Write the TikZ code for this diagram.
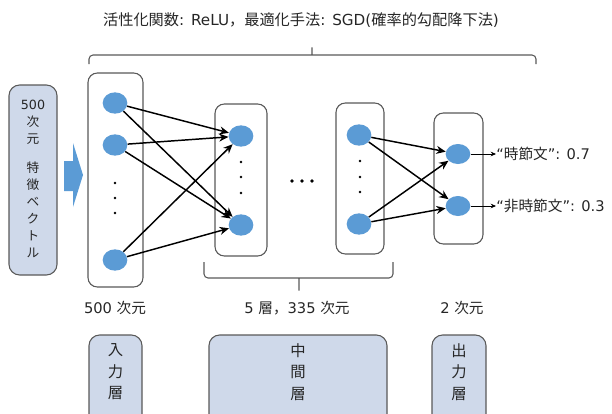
\documentclass[tikz,border=0pt]{standalone}
\usepackage{fontspec}
\setmainfont{DejaVu Sans}
\newfontfamily\jp{Noto Sans CJK JP}
\usetikzlibrary{arrows.meta,shapes.geometric}
\definecolor{nodeblue}{HTML}{5B9BD5}
\definecolor{boxfill}{HTML}{CFD9EA}
\definecolor{boxline}{HTML}{595959}
\definecolor{txt}{HTML}{262626}
\begin{document}
\begin{tikzpicture}[x=0.75pt,y=-0.75pt,
  neuron/.style={ellipse,fill=nodeblue,minimum width=18.5pt,minimum height=16pt,inner sep=0pt},
  layerbox/.style={draw=boxline,line width=0.8pt,rounded corners=7pt,fill=white,inner sep=0pt},
  bluebox/.style={draw=boxline,line width=0.8pt,rounded corners=8pt,fill=boxfill,inner sep=0pt},
  conn/.style={line width=1.1pt,-{Stealth[length=7pt,width=6pt]}},
  outarrow/.style={line width=0.6pt,-{Stealth[length=4pt,width=3.5pt]}},
  brace/.style={draw=boxline,line width=0.8pt,rounded corners=3pt},
  lbl/.style={text=txt,font=\fontsize{11}{13}\selectfont,inner sep=0pt},
  vlbl/.style={text=txt,align=center,inner sep=0pt},
  dot/.style={fill=black}
]
\useasboundingbox (0,0) rectangle (612,414);
\clip (0,0) rectangle (612,414);

% title
\node[lbl,font=\fontsize{11.4}{13}\selectfont] (title) at (301,20)
  {{\jp 活性化関数}:\hspace{0.45em}ReLU{\jp ，最適化手法}:\hspace{0.45em}SGD({\jp 確率的勾配降下法})};

% top brace
\draw[brace] (89,64) -- (89,55) -- (308,55)
  .. controls (312,55) .. (312,45) .. controls (312,55) .. (316,55)
  -- (536,55) -- (536,64);

% feature vector box
\node[bluebox,minimum width=36pt,minimum height=142.5pt] (feat) at (33,180) {};
\node[vlbl,font=\fontsize{9.5}{12.8}\selectfont] (feattxt) at (33,179)
  {500\\{\jp 次}\\{\jp 元}\\[9pt]{\jp 特}\\{\jp 徴}\\{\jp ベ}\\{\jp ク}\\{\jp ト}\\{\jp ル}};

% block arrow
\fill[nodeblue] (64,161) -- (73,161) -- (73,143) -- (83,175) -- (73,207) -- (73,191) -- (64,191) -- cycle;

% layer boxes
\node[layerbox,minimum width=41.25pt,minimum height=160.5pt] (inbox) at (115.5,180) {};
\node[layerbox,minimum width=39pt,minimum height=114pt] (h1box) at (241,180) {};
\node[layerbox,minimum width=36pt,minimum height=113.25pt] (hlbox) at (360,178.5) {};
\node[layerbox,minimum width=36.75pt,minimum height=98.25pt] (outbox) at (458.5,178.5) {};

% neurons
\node[neuron] (i1) at (115,103) {};
\node[neuron] (i2) at (115,145) {};
\node[neuron] (i3) at (115,260) {};
\node[neuron] (a1) at (241,136) {};
\node[neuron] (a2) at (241,225) {};
\node[neuron] (b1) at (359,135) {};
\node[neuron] (b2) at (359,224) {};
\node[neuron,minimum height=15pt] (o1) at (458,154) {};
\node[neuron,minimum height=15pt] (o2) at (458,206) {};

% vertical dots
\foreach \y in {183,198,213} \fill[dot] (115,\y) circle[radius=1.1pt];
\foreach \y in {162,177,193} \fill[dot] (241,\y) circle[radius=1.1pt];
\foreach \y in {161,177,192} \fill[dot] (360,\y) circle[radius=1.1pt];
% horizontal ellipsis
\foreach \x in {292,302,312} \fill[dot] (\x,181) circle[radius=1.4pt];

% connections
\foreach \s in {i1,i2,i3} \foreach \t in {a1,a2} \draw[conn] (\s) -- (\t);
\foreach \s in {b1,b2} \foreach \t in {o1,o2} \draw[conn] (\s) -- (\t);

% output labels
\node[lbl,anchor=west] (t1) at (496,154) {“{\jp 時節文}”: 0.7};
\node[lbl,anchor=west] (t2) at (496,206) {“{\jp 非時節文}”: 0.3};
\draw[outarrow] (o1) -- (t1.west);
\draw[outarrow] (o2) -- (t2.west);

% bottom brace
\draw[brace] (204,262) -- (204,278) -- (295,278)
  .. controls (299,278) .. (299,293) .. controls (299,278) .. (303,278)
  -- (393,278) -- (393,262);

% dimension labels
\node[lbl] (d1) at (115,308) {500 {\jp 次元}};
\node[lbl] (d2) at (297,308) {5 {\jp 層，}335 {\jp 次元}};
\node[lbl] (d3) at (462,308) {2 {\jp 次元}};

% bottom layer boxes
\node[bluebox,minimum width=39.75pt,minimum height=90pt] (inlayer) at (115.5,395) {};
\node[bluebox,minimum width=133.5pt,minimum height=90pt] (midlayer) at (298,395) {};
\node[bluebox,minimum width=40.5pt,minimum height=90pt] (outlayer) at (459,395) {};
\node[vlbl,font=\fontsize{11.5}{16.2}\selectfont\jp] (inlbl) at (115.5,372) {入\\力\\層};
\node[vlbl,font=\fontsize{11.5}{16.2}\selectfont\jp] (midlbl) at (298,372) {中\\間\\層};
\node[vlbl,font=\fontsize{11.5}{16.2}\selectfont\jp] (outlbl) at (459,372) {出\\力\\層};
\end{tikzpicture}
\end{document}
